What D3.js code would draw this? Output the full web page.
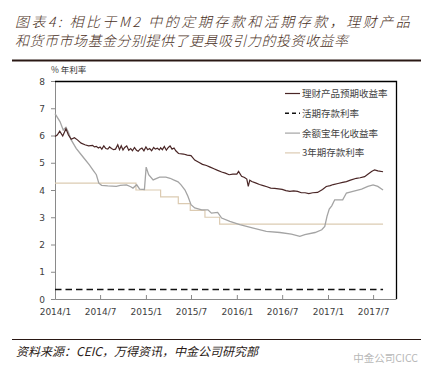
<!DOCTYPE html>
<html>
<head>
<meta charset="utf-8">
<script src="https://cdn.jsdelivr.net/npm/d3@7"></script>
<style>
  body { margin: 0; background: #fff; }
  svg { display: block; }
  .series { fill: none; }
</style>
</head>
<body>
<svg width="430" height="376"></svg>
<script>
const titleLines = ['图表4: 相比于M2 中的定期存款和活期存款，理财产品', '和货币市场基金分别提供了更具吸引力的投资收益率'];
const sourceText = '资料来源：CEIC，万得资讯，中金公司研究部';
const yAxisLabel = '% 年利率';

const legendNames = ['理财产品预期收益率', '活期存款利率', '余额宝年化收益率', '3年期存款利率'];

const xTicks = ['2014-01-01', '2014-07-01', '2015-01-01', '2015-07-01', '2016-01-01', '2016-07-01', '2017-01-01', '2017-07-01'];
const xTickLabels = ['2014/1', '2014/7', '2015/1', '2015/7', '2016/1', '2016/7', '2017/1', '2017/7'];
const yTicks = [0, 1, 2, 3, 4, 5, 6, 7, 8];

// 理财产品预期收益率
const wmpData = [
  ['2014-01-01', 5.96], ['2014-01-10', 6.02], ['2014-01-20', 6.16], ['2014-02-01', 5.98], ['2014-02-14', 6.25],
  ['2014-02-24', 6.02], ['2014-03-07', 5.86], ['2014-03-20', 5.92], ['2014-04-01', 5.84], ['2014-04-16', 5.72],
  ['2014-05-01', 5.66], ['2014-05-16', 5.62], ['2014-06-01', 5.64], ['2014-06-08', 5.58], ['2014-06-16', 5.60],
  ['2014-06-24', 5.54], ['2014-07-01', 5.58], ['2014-07-08', 5.50], ['2014-07-16', 5.62], ['2014-07-24', 5.52],
  ['2014-08-01', 5.50], ['2014-08-08', 5.58], ['2014-08-16', 5.52], ['2014-08-24', 5.48], ['2014-09-01', 5.50],
  ['2014-09-10', 5.66], ['2014-09-17', 5.48], ['2014-09-24', 5.62], ['2014-10-01', 5.47], ['2014-10-08', 5.56],
  ['2014-10-16', 5.62], ['2014-10-24', 5.46], ['2014-11-01', 5.52], ['2014-11-08', 5.44], ['2014-11-16', 5.56],
  ['2014-11-24', 5.46], ['2014-12-01', 5.42], ['2014-12-08', 5.50], ['2014-12-16', 5.54], ['2014-12-24', 5.44],
  ['2015-01-01', 5.58], ['2015-01-08', 5.48], ['2015-01-16', 5.52], ['2015-01-24', 5.44], ['2015-02-01', 5.56],
  ['2015-02-08', 5.50], ['2015-02-16', 5.53], ['2015-02-24', 5.47], ['2015-03-01', 5.55], ['2015-03-08', 5.48],
  ['2015-03-16', 5.60], ['2015-03-24', 5.46], ['2015-04-01', 5.56], ['2015-04-08', 5.62], ['2015-04-16', 5.50],
  ['2015-04-24', 5.54], ['2015-05-01', 5.44], ['2015-05-12', 5.34], ['2015-06-01', 5.32], ['2015-06-16', 5.28],
  ['2015-07-01', 5.26], ['2015-07-16', 5.10], ['2015-08-01', 5.02], ['2015-08-16', 4.94], ['2015-09-01', 4.90],
  ['2015-09-16', 4.84], ['2015-10-01', 4.78], ['2015-10-16', 4.72], ['2015-11-01', 4.66], ['2015-11-16', 4.62],
  ['2015-12-01', 4.56], ['2015-12-16', 4.58], ['2016-01-01', 4.58], ['2016-01-08', 4.68], ['2016-01-20', 4.50],
  ['2016-02-01', 4.46], ['2016-02-10', 4.40], ['2016-02-16', 4.13], ['2016-02-22', 4.36], ['2016-03-01', 4.31],
  ['2016-03-16', 4.26], ['2016-04-01', 4.20], ['2016-04-16', 4.16], ['2016-05-01', 4.12], ['2016-05-16', 4.07],
  ['2016-06-01', 4.06], ['2016-06-16', 4.04], ['2016-07-01', 4.02], ['2016-07-16', 3.98], ['2016-08-01', 3.95],
  ['2016-08-16', 3.97], ['2016-09-01', 3.95], ['2016-09-16', 3.90], ['2016-10-01', 3.90], ['2016-10-16', 3.87],
  ['2016-11-01', 3.90], ['2016-11-20', 3.91], ['2016-12-10', 4.02], ['2016-12-25', 4.13], ['2017-01-10', 4.16],
  ['2017-01-22', 4.20], ['2017-02-10', 4.24], ['2017-03-01', 4.28], ['2017-03-16', 4.31], ['2017-04-01', 4.36],
  ['2017-04-25', 4.43], ['2017-05-10', 4.45], ['2017-05-28', 4.49], ['2017-06-10', 4.58], ['2017-06-25', 4.68],
  ['2017-07-07', 4.74], ['2017-07-20', 4.70], ['2017-08-10', 4.67]
];

// 活期存款利率
const demandData = [['2014-01-01', 0.35], ['2017-08-10', 0.35]];

// 余额宝年化收益率
const yebData = [
  ['2014-01-01', 6.80], ['2014-01-21', 6.51], ['2014-02-03', 6.20], ['2014-02-14', 6.30], ['2014-02-23', 6.14],
  ['2014-03-07', 5.84], ['2014-03-27', 5.53], ['2014-04-22', 5.23], ['2014-05-19', 4.92], ['2014-06-02', 4.74],
  ['2014-06-16', 4.56], ['2014-06-26', 4.25], ['2014-07-07', 4.17], ['2014-08-01', 4.15], ['2014-09-04', 4.13],
  ['2014-09-20', 4.17], ['2014-10-15', 4.19], ['2014-11-01', 4.12], ['2014-11-10', 4.07], ['2014-11-25', 4.19],
  ['2014-12-07', 4.03], ['2014-12-26', 4.02], ['2015-01-02', 4.84], ['2015-01-12', 4.56], ['2015-01-30', 4.37],
  ['2015-02-25', 4.47], ['2015-03-22', 4.47], ['2015-04-08', 4.43], ['2015-04-22', 4.37], ['2015-05-10', 4.30],
  ['2015-05-22', 4.19], ['2015-06-07', 4.00], ['2015-06-19', 3.76], ['2015-07-01', 3.46], ['2015-07-16', 3.34],
  ['2015-08-13', 3.27], ['2015-09-07', 3.27], ['2015-09-21', 3.15], ['2015-10-16', 3.18], ['2015-11-01', 2.97],
  ['2015-12-04', 2.85], ['2016-01-13', 2.73], ['2016-03-07', 2.60], ['2016-04-28', 2.48], ['2016-06-22', 2.44],
  ['2016-08-07', 2.38], ['2016-09-10', 2.30], ['2016-09-30', 2.36], ['2016-11-10', 2.44], ['2016-12-07', 2.54],
  ['2016-12-19', 2.66], ['2016-12-28', 3.03], ['2017-01-06', 3.30], ['2017-01-16', 3.42], ['2017-01-28', 3.64],
  ['2017-03-01', 3.64], ['2017-03-16', 3.89], ['2017-04-11', 3.95], ['2017-05-16', 4.03], ['2017-06-10', 4.13],
  ['2017-07-01', 4.19], ['2017-07-20', 4.13], ['2017-08-10', 4.00]
];

// 3年期存款利率 (step changes)
const depositData = [
  ['2014-01-01', 4.25], ['2014-11-22', 4.00], ['2015-03-01', 3.75], ['2015-05-11', 3.50],
  ['2015-06-28', 3.25], ['2015-08-26', 3.00], ['2015-10-24', 2.75], ['2017-08-10', 2.75]
];

const colors = ['#4a2626', '#111111', '#a4a4a4', '#dccbb2'];
const cjkFont = '"Noto Sans CJK SC", sans-serif';
const numFont = '"DejaVu Sans", sans-serif';

const svg = d3.select('svg');
const margin = { top: 81, right: 34, bottom: 77, left: 55 };
const width = +svg.attr('width');
const height = +svg.attr('height');
const innerWidth = width - margin.left - margin.right;
const innerHeight = height - margin.top - margin.bottom;

const parse = d3.timeParse('%Y-%m-%d');

const xScale = d3.scaleTime()
  .domain([parse('2014-01-01'), parse('2017-10-01')])
  .range([0, innerWidth]);

const yScale = d3.scaleLinear()
  .domain([0, 8])
  .range([innerHeight, 0]);

// title
svg.selectAll('.title').data(titleLines).enter().append('text')
  .attr('class', 'title')
  .attr('x', 15)
  .attr('y', (d, i) => 27 + i * 19)
  .attr('font-family', cjkFont)
  .attr('font-style', 'italic')
  .attr('font-weight', 300)
  .attr('font-size', 14)
  .attr('letter-spacing', (d, i) => i === 0 ? 2.5 : 0.5)
  .attr('fill', '#4a3024')
  .text(d => d);

svg.append('line')
  .attr('x1', 12).attr('x2', 421).attr('y1', 60.5).attr('y2', 60.5)
  .attr('stroke', '#2a1814').attr('stroke-width', 2);

const g = svg.append('g')
  .attr('transform', `translate(${margin.left},${margin.top})`);

const yAxis = d3.axisLeft(yScale)
  .tickValues(yTicks)
  .tickSize(4)
  .tickPadding(6)
  .tickFormat(d3.format('d'));

const xAxis = d3.axisBottom(xScale)
  .tickValues(xTicks.map(parse))
  .tickSizeInner(-4)
  .tickSizeOuter(0)
  .tickPadding(10)
  .tickFormat((d, i) => xTickLabels[i]);

const yAxisG = g.append('g').call(yAxis)
  .attr('font-family', numFont).attr('font-size', 9);
yAxisG.selectAll('.tick text').attr('dy', null).attr('y', 3);

const xAxisG = g.append('g')
  .attr('transform', `translate(0,${innerHeight})`)
  .call(xAxis)
  .attr('font-family', numFont).attr('font-size', 9);
xAxisG.selectAll('.tick text').attr('dy', null).attr('y', 16);

[yAxisG, xAxisG].forEach(ax => {
  ax.selectAll('.tick text').attr('fill', '#404040');
  ax.selectAll('.tick line').attr('stroke', '#8a8a8a');
  ax.select('.domain').attr('stroke', '#8a8a8a');
});

// top and right frame
g.append('path')
  .attr('d', `M0,0.5H${innerWidth + 0.5}V${innerHeight}`)
  .attr('fill', 'none')
  .attr('stroke', '#000')
  .attr('stroke-width', 1.3);

g.append('text')
  .attr('x', -4)
  .attr('y', -8)
  .attr('font-family', cjkFont)
  .attr('font-size', 8.5)
  .attr('fill', '#333')
  .text(yAxisLabel);

const line = d3.line()
  .x(d => xScale(parse(d[0])))
  .y(d => yScale(d[1]));

const stepLine = d3.line()
  .curve(d3.curveStepAfter)
  .x(d => xScale(parse(d[0])))
  .y(d => yScale(d[1]));

g.append('path').attr('class', 'series')
  .attr('d', stepLine(depositData))
  .attr('stroke', colors[3]).attr('stroke-width', 1.2);

g.append('path').attr('class', 'series')
  .attr('d', line(yebData))
  .attr('stroke', colors[2]).attr('stroke-width', 1.3);

g.append('path').attr('class', 'series')
  .attr('d', line(wmpData))
  .attr('stroke', colors[0]).attr('stroke-width', 1.2);

g.append('path').attr('class', 'series')
  .attr('d', line(demandData))
  .attr('stroke', colors[1]).attr('stroke-width', 1.5)
  .attr('stroke-dasharray', '6.5,4');

// legend
const legend = svg.append('g')
  .attr('transform', 'translate(285,93.5)');

const items = legend.selectAll('g').data(legendNames).enter().append('g')
  .attr('transform', (d, i) => `translate(0,${i * 19.8})`);

items.append('line')
  .attr('x1', 0).attr('x2', 15)
  .attr('stroke', (d, i) => colors[i])
  .attr('stroke-width', (d, i) => i === 1 ? 1.5 : 1.2)
  .attr('stroke-dasharray', (d, i) => i === 1 ? '4,3' : null);

items.append('text')
  .attr('x', 17)
  .attr('y', 3.5)
  .attr('font-family', cjkFont)
  .attr('font-size', 9.5)
  .attr('fill', '#444')
  .text(d => d);

// source
svg.append('line')
  .attr('x1', 12).attr('x2', 421).attr('y1', 339.5).attr('y2', 339.5)
  .attr('stroke', '#2a1814').attr('stroke-width', 1);

svg.append('text')
  .attr('x', 16)
  .attr('y', 356)
  .attr('font-family', cjkFont)
  .attr('font-style', 'italic')
  .attr('font-size', 12)
  .attr('fill', '#2a1a16')
  .text(sourceText);

svg.append('text')
  .attr('x', 418)
  .attr('y', 362)
  .attr('text-anchor', 'end')
  .attr('font-family', cjkFont)
  .attr('font-size', 10.5)
  .attr('fill', '#b8b8b8')
  .text('中金公司CICC');
</script>
</body>
</html>
